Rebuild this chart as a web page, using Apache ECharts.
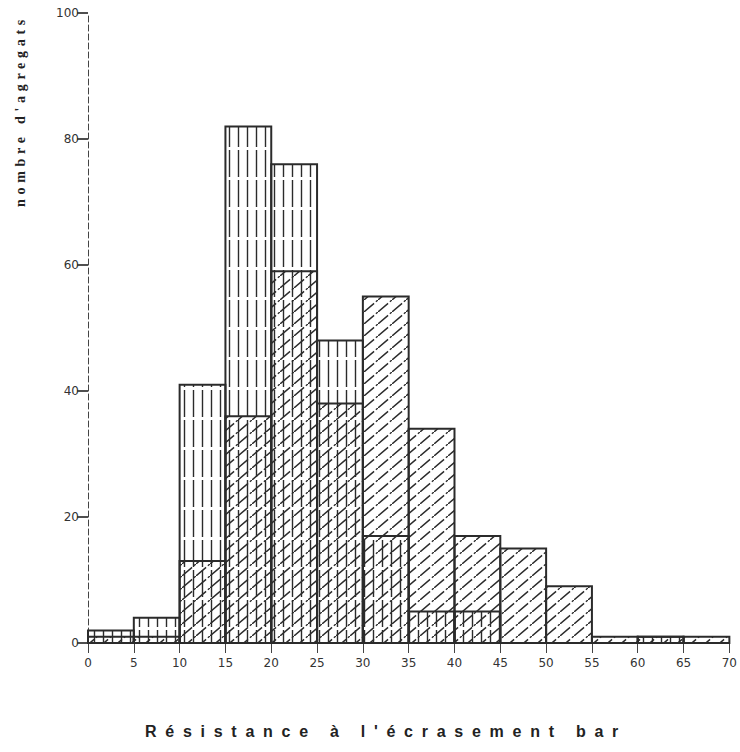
<!DOCTYPE html>
<html>
<head>
<meta charset="utf-8">
<script src="https://cdn.jsdelivr.net/npm/echarts@6/dist/echarts.min.js"></script>
<style>
  html, body { margin: 0; padding: 0; background: #ffffff; }
  #main { width: 740px; height: 752px; }
</style>
</head>
<body>
<div id="main"></div>
<script>
// Class lower bounds (bar) and class width
const binStarts = [0, 5, 10, 15, 20, 25, 30, 35, 40, 45, 50, 55, 60, 65];
const binWidth = 5;
// Counts per class: population drawn with vertical hatching
const countsVertical = [2, 4, 41, 82, 76, 48, 17, 5, 5, 0, 0, 0, 1, 0];
// Counts per class: population drawn with oblique hatching
const countsOblique = [1, 1, 13, 36, 59, 38, 55, 34, 17, 15, 9, 1, 1, 1];
// Axis graduations
const xTicks = [0, 5, 10, 15, 20, 25, 30, 35, 40, 45, 50, 55, 60, 65, 70];
const yTicks = [0, 20, 40, 60, 80, 100];

const xTitle = "Résistance à l'écrasement bar";
const yTitle = "nombre d'agregats";

const INK = '#2b2b2b';

// Repeating tile with broken vertical strokes
function verticalHatch() {
  const c = document.createElement('canvas');
  c.width = 9; c.height = 30;
  const g = c.getContext('2d');
  g.strokeStyle = INK;
  g.lineWidth = 1.4;
  g.setLineDash([27, 3]);
  g.beginPath();
  g.moveTo(4.5, 0); g.lineTo(4.5, 30);
  g.stroke();
  return c;
}

// Repeating tile with broken oblique strokes rising to the right
function obliqueHatch() {
  const w = 14, h = 12;
  const c = document.createElement('canvas');
  c.width = w; c.height = h;
  const g = c.getContext('2d');
  g.strokeStyle = INK;
  g.lineWidth = 1.4;
  g.lineCap = 'butt';
  g.beginPath();
  g.moveTo(0, h); g.lineTo(w * 0.72, h * 0.28);
  g.moveTo(w * 0.85, h * 0.15); g.lineTo(w + 1, -1);
  g.stroke();
  return c;
}

const vPattern = { image: verticalHatch(), repeat: 'repeat' };
const oPattern = { image: obliqueHatch(), repeat: 'repeat' };

function toBins(counts) {
  return binStarts.map((lo, i) => [lo, lo + binWidth, counts[i]]);
}

function histRenderer(fill) {
  return function (params, api) {
    const lo = api.value(0), hi = api.value(1), v = api.value(2);
    if (!v) return null;
    const pTop = api.coord([lo, v]);
    const pBot = api.coord([hi, 0]);
    return {
      type: 'rect',
      shape: { x: pTop[0], y: pTop[1], width: pBot[0] - pTop[0], height: pBot[1] - pTop[1] },
      style: { fill: fill, stroke: INK, lineWidth: 2 }
    };
  };
}

const chart = echarts.init(document.getElementById('main'), null, { renderer: 'svg' });

const labelFont = { color: '#333', fontFamily: 'DejaVu Sans', fontSize: 12 };

chart.setOption({
  animation: false,
  backgroundColor: '#ffffff',
  grid: { left: 88, right: 8, top: 13, bottom: 109 },
  xAxis: {
    type: 'value',
    min: xTicks[0],
    max: xTicks[xTicks.length - 1],
    interval: 5,
    axisLine: { show: true, lineStyle: { color: '#444', width: 1, type: [6, 3] } },
    axisTick: { show: true, length: 10, lineStyle: { color: '#444', width: 1 } },
    axisLabel: Object.assign({ margin: 14 }, labelFont),
    splitLine: { show: false }
  },
  yAxis: {
    type: 'value',
    min: yTicks[0],
    max: yTicks[yTicks.length - 1],
    interval: 20,
    axisLine: { show: true, lineStyle: { color: '#444', width: 1, type: [6, 3] } },
    axisTick: { show: true, length: 11, lineStyle: { color: '#222', width: 1.6 } },
    axisLabel: Object.assign({ margin: 9 }, labelFont),
    splitLine: { show: false }
  },
  series: [
    {
      type: 'custom',
      name: 'vertical',
      renderItem: histRenderer(vPattern),
      encode: { x: [0, 1], y: 2 },
      data: toBins(countsVertical),
      z: 2
    },
    {
      type: 'custom',
      name: 'oblique',
      renderItem: histRenderer(oPattern),
      encode: { x: [0, 1], y: 2 },
      data: toBins(countsOblique),
      z: 3
    }
  ],
  graphic: [
    {
      type: 'text',
      x: 386, y: 731,
      style: {
        text: xTitle,
        font: 'bold 16px "Liberation Sans"',
        fill: '#222',
        align: 'center',
        verticalAlign: 'middle'
      }
    },
    {
      type: 'text',
      x: 20, y: 111,
      rotation: Math.PI / 2,
      style: {
        text: yTitle,
        font: 'bold 14px "Liberation Serif"',
        fill: '#222',
        align: 'center',
        verticalAlign: 'middle'
      }
    }
  ]
});

// Spread the titles' letters to their set lengths
function spacingFor(text, font, length) {
  const g = document.createElement('canvas').getContext('2d');
  g.font = font;
  const natural = g.measureText(text).width;
  return Math.max(0, (length - natural) / text.length);
}
const spacing = {};
spacing[xTitle] = spacingFor(xTitle, 'bold 16px "Liberation Sans"', 482);
spacing[yTitle] = spacingFor(yTitle, 'bold 14px "Liberation Serif"', 192);

function applySpacing() {
  chart.getDom().querySelectorAll('text').forEach(function (t) {
    const s = spacing[t.textContent];
    if (s != null) t.setAttribute('letter-spacing', s.toFixed(2) + 'px');
  });
}
applySpacing();
chart.on('finished', applySpacing);
chart.on('rendered', applySpacing);
setTimeout(applySpacing, 50);
</script>
</body>
</html>
